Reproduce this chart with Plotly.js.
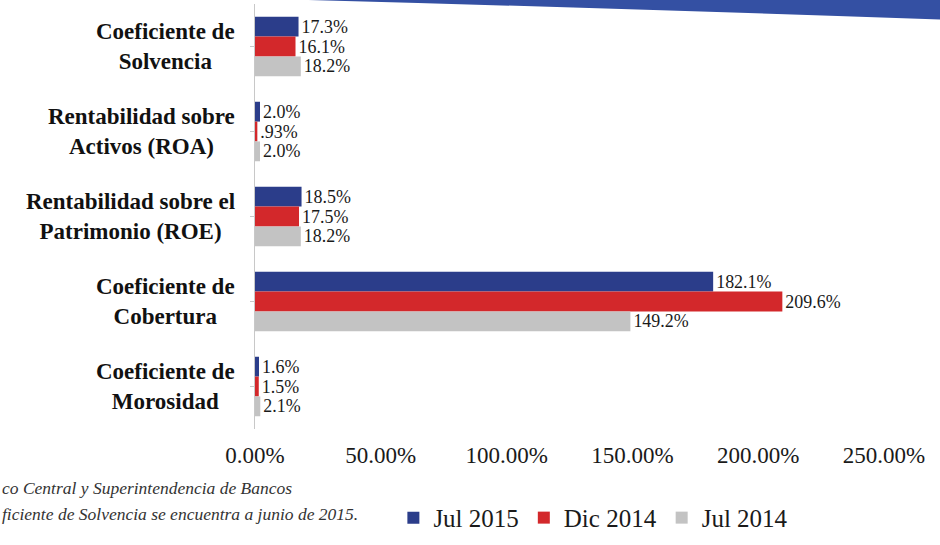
<!DOCTYPE html>
<html>
<head>
<meta charset="utf-8">
<script src="https://cdn.plot.ly/plotly-3.0.1.min.js"></script>
<style>html,body{margin:0;padding:0;background:#fff;}#chart{width:940px;height:545px;}</style>
</head>
<body>
<div id="chart"></div>
<script>
const categories = [
  "Coeficiente de<br>Solvencia",
  "Rentabilidad sobre<br>Activos (ROA)",
  "Rentabilidad sobre el<br>Patrimonio (ROE)",
  "Coeficiente de<br>Cobertura",
  "Coeficiente de<br>Morosidad"
];
const seriesNames = ["Jul 2015", "Dic 2014", "Jul 2014"];
const jul2015 = [17.3, 2.0, 18.5, 182.1, 1.6];
const dic2014 = [16.1, 0.93, 17.5, 209.6, 1.5];
const jul2014 = [18.2, 2.0, 18.2, 149.2, 2.1];
const jul2015Labels = ["17.3%", "2.0%", "18.5%", "182.1%", "1.6%"];
const dic2014Labels = ["16.1%", ".93%", "17.5%", "209.6%", "1.5%"];
const jul2014Labels = ["18.2%", "2.0%", "18.2%", "149.2%", "2.1%"];
const xTicks = [0, 50, 100, 150, 200, 250];
const xTickLabels = ["0.00%", "50.00%", "100.00%", "150.00%", "200.00%", "250.00%"];
const sourceLines = [
  "co Central y Superintendencia de Bancos",
  "ficiente de Solvencia se encuentra a junio de 2015."
];

const colors = ["#2b3d8a", "#d3282b", "#c3c3c3"];
const values = [jul2015, dic2014, jul2014];
const labels = [jul2015Labels, dic2014Labels, jul2014Labels];
const serif = "Liberation Serif";

const traces = seriesNames.map((name, i) => ({
  type: "bar",
  orientation: "h",
  name: name,
  y: categories,
  x: values[i],
  text: labels[i],
  textposition: "outside",
  cliponaxis: false,
  textfont: {family: serif, size: 19, color: "#1a1a1a"},
  marker: {color: colors[i], line: {width: 0}},
  hoverinfo: "x+name"
}));

const catAnnotations = categories.map(c => ({
  xref: "paper", yref: "y", x: -0.028, y: c, xanchor: "right", yanchor: "middle",
  text: c, showarrow: false, align: "center",
  font: {family: serif, size: 23, color: "#111", weight: 700}
}));

const layout = {
  width: 940, height: 545,
  margin: {l: 255, r: 56, t: 4, b: 106},
  paper_bgcolor: "#ffffff",
  plot_bgcolor: "#ffffff",
  barmode: "group",
  bargap: 0.3,
  bargroupgap: 0,
  showlegend: true,
  legend: {
    orientation: "h", x: 0.22, xanchor: "left", y: -0.155, yanchor: "top",
    font: {family: serif, size: 25, color: "#1a1a1a"},
    itemwidth: 30
  },
  xaxis: {
    range: [0, 250],
    tickvals: xTicks,
    ticktext: xTickLabels,
    showgrid: false, zeroline: false, showline: false,
    ticks: "",
    ticklabelstandoff: 10,
    tickfont: {family: serif, size: 23, color: "#1a1a1a"},
    automargin: false
  },
  yaxis: {
    autorange: "reversed",
    showgrid: false, zeroline: false,
    showline: true, linecolor: "#c8c8c8", linewidth: 1,
    ticks: "outside", ticklen: 4, tickcolor: "#c8c8c8",
    showticklabels: false,
    automargin: false
  },
  shapes: [{
    type: "path", xref: "paper", yref: "paper",
    path: "M 0.07 1.01 L 1.25 1.01 L 1.25 0.955 Q 0.7 0.985 0.07 1.01 Z",
    fillcolor: "#3450a3", line: {width: 0}, layer: "below"
  }],
  annotations: catAnnotations.concat([
    {xref: "paper", yref: "paper", x: -0.405, y: -0.11, xanchor: "left", yanchor: "top",
     text: "<i>" + sourceLines[0] + "</i>", showarrow: false, align: "left",
     font: {family: serif, size: 17.5, color: "#333"}},
    {xref: "paper", yref: "paper", x: -0.405, y: -0.172, xanchor: "left", yanchor: "top",
     text: "<i>" + sourceLines[1] + "</i>", showarrow: false, align: "left",
     font: {family: serif, size: 17.5, color: "#333"}}
  ])
};

Plotly.newPlot("chart", traces, layout, {displayModeBar: false, staticPlot: true});
</script>
</body>
</html>
